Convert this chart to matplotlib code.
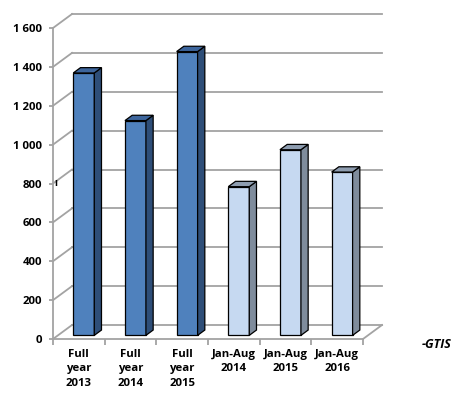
import matplotlib
matplotlib.use('Agg')
import matplotlib.pyplot as plt
from matplotlib.patches import Polygon
import numpy as np

# 数据
categories = ['Full\nyear\n2013', 'Full\nyear\n2014', 'Full\nyear\n2015',
              'Jan-Aug\n2014', 'Jan-Aug\n2015', 'Jan-Aug\n2016']
values = [1350, 1105, 1460, 765, 955, 840]
yticks = [0, 200, 400, 600, 800, 1000, 1200, 1400, 1600]
yticklabels = ['0', '200', '400', '600', '800', '1 000', '1 200', '1 400', '1 600']

# 颜色：全年 / 1-8月
front_cols = ['#4f81bd'] * 3 + ['#c6d9f1'] * 3
side_cols = ['#2e4e78'] * 3 + ['#7f8c9c'] * 3
top_cols = ['#3d659c'] * 3 + ['#8e9db0'] * 3

plt.rcParams['font.family'] = ['Open Sans', 'DejaVu Sans']
plt.rcParams['font.weight'] = 'bold'

fig = plt.figure(figsize=(4.57, 3.94), dpi=100)
ax = fig.add_axes([53 / 457, 55 / 394, 310 / 457, 311 / 394])
ax.set_xlim(-0.5, 5.5)
ax.set_ylim(0, 1600)

# 伪3D的景深
DX, DY = 0.368, 72
grid_c = '#a3a3a3'

# 背墙网格线 + 左侧墙斜线
for v in yticks:
    ax.plot([-0.5 + DX, 5.5 + DX], [v + DY, v + DY], color=grid_c, lw=1.3,
            clip_on=False, zorder=1)
    ax.plot([-0.5, -0.5 + DX], [v, v + DY], color=grid_c, lw=1.3,
            clip_on=False, zorder=1)
# 底面右侧边
ax.plot([5.5, 5.5 + DX], [0, DY], color=grid_c, lw=1.3, clip_on=False, zorder=1)

# 柱子
x = np.arange(len(values))
w = 0.406
d0, d1 = 0.26, 0.64
sx, sy = DX * d0, DY * d0
bdx, bdy = DX * (d1 - d0), DY * (d1 - d0)
ax.bar(x + sx, values, width=w, bottom=sy, color=front_cols, edgecolor='black',
       linewidth=0.9, zorder=3, clip_on=False)
for xi, v, sc, tc in zip(x, values, side_cols, top_cols):
    xl = xi + sx - w / 2
    xr = xi + sx + w / 2
    yb = sy
    yt = sy + v
    side = Polygon([(xr, yb), (xr + bdx, yb + bdy), (xr + bdx, yt + bdy), (xr, yt)],
                   closed=True, facecolor=sc, edgecolor='black', lw=0.9,
                   zorder=3, clip_on=False)
    top = Polygon([(xl, yt), (xr, yt), (xr + bdx, yt + bdy), (xl + bdx, yt + bdy)],
                  closed=True, facecolor=tc, edgecolor='black', lw=0.9,
                  zorder=3, clip_on=False)
    ax.add_patch(side)
    ax.add_patch(top)

# 坐标轴
for s in ['top', 'right']:
    ax.spines[s].set_visible(False)
ax.spines['left'].set_color(grid_c)
ax.spines['bottom'].set_color(grid_c)
ax.spines['left'].set_linewidth(1.3)
ax.spines['bottom'].set_linewidth(1.3)
ax.spines['left'].set_zorder(1)
ax.spines['bottom'].set_zorder(1)

ax.set_yticks(yticks)
ax.set_yticklabels(yticklabels)
ax.tick_params(axis='y', length=3, width=1.3, color=grid_c, pad=5, labelsize=8.2)
ax.set_xticks(x)
ax.set_xticklabels(categories, linespacing=1.47)
ax.set_xticks(np.arange(-0.5, 6, 1), minor=True)
ax.tick_params(axis='x', which='major', length=0, pad=7, labelsize=8.2)
ax.tick_params(axis='x', which='minor', length=4, width=1.3, color=grid_c)
ax.patch.set_visible(False)

# 800 处的小标记
ax.text(-0.44, 800, 'ı', fontsize=7, ha='center', va='center', color='black')

fig.text(422 / 457, 49 / 394, '-GTIS', fontsize=9, fontweight='bold',
         fontstyle='italic', ha='left', va='center')

fig.savefig('out.png', dpi=100)
